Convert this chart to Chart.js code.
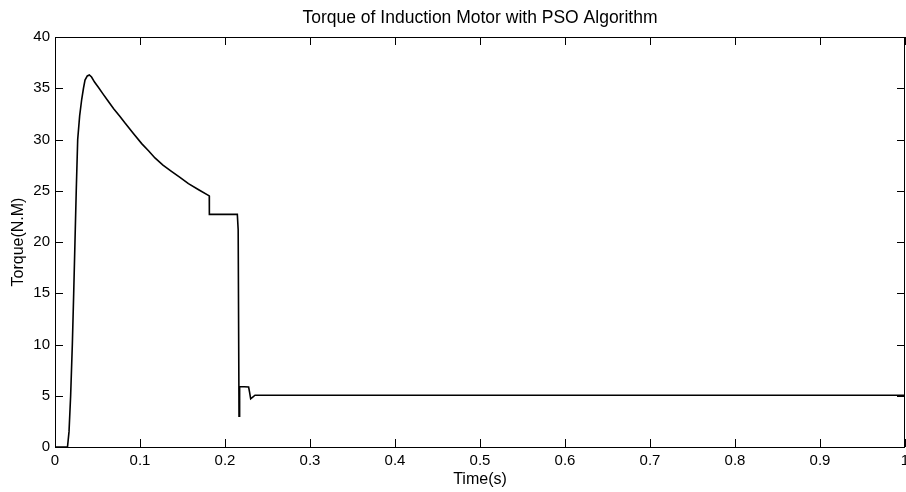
<!DOCTYPE html>
<html>
<head>
<meta charset="utf-8">
<script src="https://cdn.jsdelivr.net/npm/chart.js@4"></script>
<style>
  html, body { margin: 0; padding: 0; background: #fff; }
  #wrap { width: 906px; height: 492px; }
</style>
</head>
<body>
<div id="wrap"><canvas id="torqueChart" width="906" height="492"></canvas></div>
<script>
// values
var timeS = [0, 0.0147, 0.0165, 0.0184, 0.0204, 0.022, 0.0235, 0.025, 0.0267, 0.0290, 0.0314, 0.0335, 0.0353, 0.0380, 0.0404,
    0.0430, 0.0465, 0.0510, 0.0560, 0.0620, 0.0690, 0.0760, 0.0824, 0.0920, 0.1020, 0.1100, 0.1176, 0.1270, 0.1370,
    0.1470, 0.1570, 0.1690, 0.1815, 0.1816, 0.2145, 0.2155, 0.2165, 0.2172, 0.2278,
    0.2290, 0.2302, 0.2330, 0.2353, 0.24, 1.0];
var torqueNm = [0, 0, 1.5, 5, 10, 15, 20, 25, 30, 32.3, 33.9, 35.0, 35.8, 36.2, 36.3,
    36.1, 35.6, 35.1, 34.5, 33.8, 33.0, 32.3, 31.6, 30.6, 29.6, 28.9, 28.2, 27.5, 26.9,
    26.3, 25.7, 25.1, 24.5, 22.7, 22.7, 21.2, 3.0, 5.9, 5.85,
    5.3, 4.7, 4.9, 5.05, 5.05, 5.05];
var xTickLabels = ['0', '0.1', '0.2', '0.3', '0.4', '0.5', '0.6', '0.7', '0.8', '0.9', '1'];
var yTickLabels = ['0', '5', '10', '15', '20', '25', '30', '35', '40'];

var points = timeS.map(function(t, i) { return { x: t, y: torqueNm[i] }; });

Chart.defaults.color = '#000';
Chart.defaults.font.family = '"Liberation Sans", Arial, sans-serif';
Chart.defaults.font.size = 15;

// matlab style box with inward ticks and a title centred on the plot area
var matlabBox = {
    id: 'matlabBox',
    afterDraw: function(chart) {
        var ctx = chart.ctx, a = chart.chartArea;
        var xs = chart.scales.x, ys = chart.scales.y;
        ctx.save();
        ctx.strokeStyle = '#000';
        ctx.lineWidth = 1;
        ctx.beginPath();
        ctx.rect(a.left + 0.5, a.top + 0.5, a.right - a.left - 1, a.bottom - a.top);
        xs.ticks.forEach(function(tk) {
            var px = Math.round(xs.getPixelForValue(tk.value)) + 0.5;
            ctx.moveTo(px, a.bottom); ctx.lineTo(px, a.bottom - 8);
            ctx.moveTo(px, a.top); ctx.lineTo(px, a.top + 8);
        });
        ys.ticks.forEach(function(tk) {
            var py = Math.round(ys.getPixelForValue(tk.value)) + 0.5;
            ctx.moveTo(a.left, py); ctx.lineTo(a.left + 8, py);
            ctx.moveTo(a.right, py); ctx.lineTo(a.right - 8, py);
        });
        ctx.stroke();
        ctx.fillStyle = '#000';
        ctx.font = '17.5px "Liberation Sans", Arial, sans-serif';
        ctx.textAlign = 'center';
        ctx.textBaseline = 'alphabetic';
        ctx.fillText('Torque of Induction Motor with PSO Algorithm', (a.left + a.right) / 2, 23);
        ctx.restore();
    }
};

var ctx = document.getElementById('torqueChart').getContext('2d');
var torqueChart = new Chart(ctx, {
    type: 'line',
    data: {
        datasets: [{
            label: 'Torque',
            data: points,
            borderColor: '#000',
            borderWidth: 1.6,
            pointRadius: 0,
            tension: 0,
            fill: false
        }]
    },
    options: {
        responsive: false,
        animation: false,
        layout: { padding: { top: 37, right: 1, left: 0, bottom: 0 } },
        plugins: {
            legend: { display: false },
            tooltip: { enabled: false }
        },
        scales: {
            x: {
                type: 'linear',
                min: 0,
                max: 1,
                grid: { display: false, drawTicks: false },
                border: { display: false },
                ticks: {
                    stepSize: 0.1,
                    padding: 5,
                    maxRotation: 0,
                    autoSkip: false,
                    callback: function(v, i) { return xTickLabels[i]; }
                },
                title: { display: true, text: 'Time(s)', font: { size: 16 }, padding: { top: 0, bottom: 3 } },
                afterFit: function(scale) {
                    scale.height = 45;
                    scale.paddingLeft = 0;
                    scale.paddingRight = 0;
                }
            },
            y: {
                min: 0,
                max: 40,
                grid: { display: false, drawTicks: false },
                border: { display: false },
                ticks: {
                    stepSize: 5,
                    padding: 5,
                    callback: function(v, i) { return yTickLabels[i]; }
                },
                title: { display: true, text: 'Torque(N.M)', font: { size: 16 }, padding: { top: 9, bottom: 0 } },
                afterFit: function(scale) { scale.width = 55; }
            }
        }
    },
    plugins: [matlabBox]
});
</script>
</body>
</html>
